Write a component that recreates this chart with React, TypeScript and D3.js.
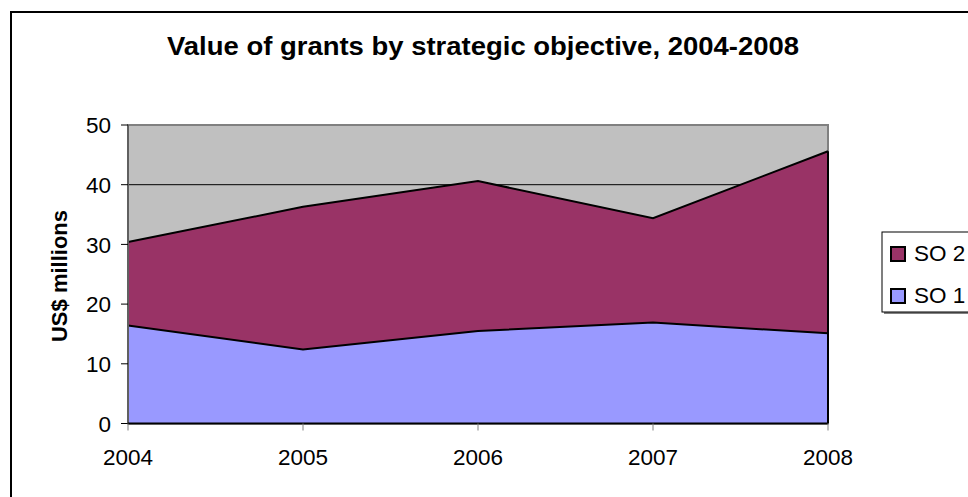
import React from "react";
import * as d3 from "d3";

const years = ["2004", "2005", "2006", "2007", "2008"];
const so1 = [16.4, 12.4, 15.5, 16.9, 15.1];
const so2 = [14.0, 23.9, 25.1, 17.5, 30.5];
const yTicks = [0, 10, 20, 30, 40, 50];
const seriesNames = ["SO 2", "SO 1"];
const seriesColors = ["#993366", "#9999FF"];
const title = "Value of grants by strategic objective, 2004-2008";
const yLabel = "US$ millions";

export default function App() {
  const W = 968, H = 497;
  const left = 128, right = 828, top = 125, bottom = 423.5;
  const x = d3.scalePoint<string>().domain(years).range([left, right]);
  const y = d3.scaleLinear().domain([0, 50]).range([bottom, top]);
  const rows = years.map((yr, i) => ({ yr, so1: so1[i], so2: so2[i] }));
  const stack = d3.stack<any>().keys(["so1", "so2"])(rows);
  const area = d3.area<any>()
    .x((d) => x(d.data.yr) as number)
    .y0((d) => y(d[0]))
    .y1((d) => y(d[1]));
  const line = d3.line<any>()
    .x((d) => x(d.data.yr) as number)
    .y((d) => y(d[1]));
  const font = "Arial, 'Liberation Sans', sans-serif";
  const fs = 22.5;
  return (
    <svg width={W} height={H} style={{ position: "absolute", left: 0, top: 0, background: "#fff" }} fontFamily={font}>
      <rect x={11} y={12} width={1000} height={600} fill="#fff" stroke="#000" strokeWidth={2} />
      <text x={167} y={55} fontWeight="bold" fontSize={25} textLength={632} lengthAdjust="spacingAndGlyphs">{title}</text>
      <rect x={left} y={top} width={right - left} height={bottom - top} fill="#C0C0C0" stroke="#808080" strokeWidth={2} />
      {yTicks.filter((t) => t > 0 && t < 50).map((t) => (
        <line key={t} x1={left} x2={right} y1={y(t)} y2={y(t)} stroke="#000" strokeWidth={1} />
      ))}
      <path d={area(stack[1] as any) || ""} fill={seriesColors[0]} />
      <path d={area(stack[0] as any) || ""} fill={seriesColors[1]} />
      <path d={line(stack[1] as any) || ""} fill="none" stroke="#000" strokeWidth={2} />
      <path d={line(stack[0] as any) || ""} fill="none" stroke="#000" strokeWidth={2} />
      <line x1={right} x2={right} y1={y(so1[4] + so2[4])} y2={bottom} stroke="#000" strokeWidth={2} />
      <line x1={left} x2={left} y1={top} y2={bottom} stroke="#606060" strokeWidth={2} />
      <line x1={left} x2={right} y1={bottom} y2={bottom} stroke="#000" strokeWidth={2} />
      {yTicks.map((t) => (
        <g key={t}>
          <line x1={left - 7} x2={left} y1={y(t)} y2={y(t)} stroke="#000" strokeWidth={1} />
          <text x={left - 17} y={y(t)} dy="0.36em" textAnchor="end" fontSize={fs}>{t}</text>
        </g>
      ))}
      {years.map((yr) => (
        <g key={yr}>
          <line x1={x(yr)} x2={x(yr)} y1={bottom} y2={bottom + 7} stroke="#808080" strokeWidth={1} />
          <text x={x(yr)} y={465} textAnchor="middle" fontSize={fs}>{yr}</text>
        </g>
      ))}
      <text transform={`translate(67,276) rotate(-90)`} textAnchor="middle" fontWeight="bold" fontSize={22}>{yLabel}</text>
      <rect x={884} y={234} width={100} height={80} fill="#808080" />
      <rect x={882} y={232} width={100} height={80} fill="#fff" stroke="#000" strokeWidth={1} />
      {seriesNames.map((n, i) => (
        <g key={n}>
          <rect x={891} y={247 + i * 42} width={14} height={14} fill={seriesColors[i]} stroke="#000" strokeWidth={2} />
          <text x={914} y={261 + i * 42} fontSize={fs}>{n}</text>
        </g>
      ))}
    </svg>
  );
}
